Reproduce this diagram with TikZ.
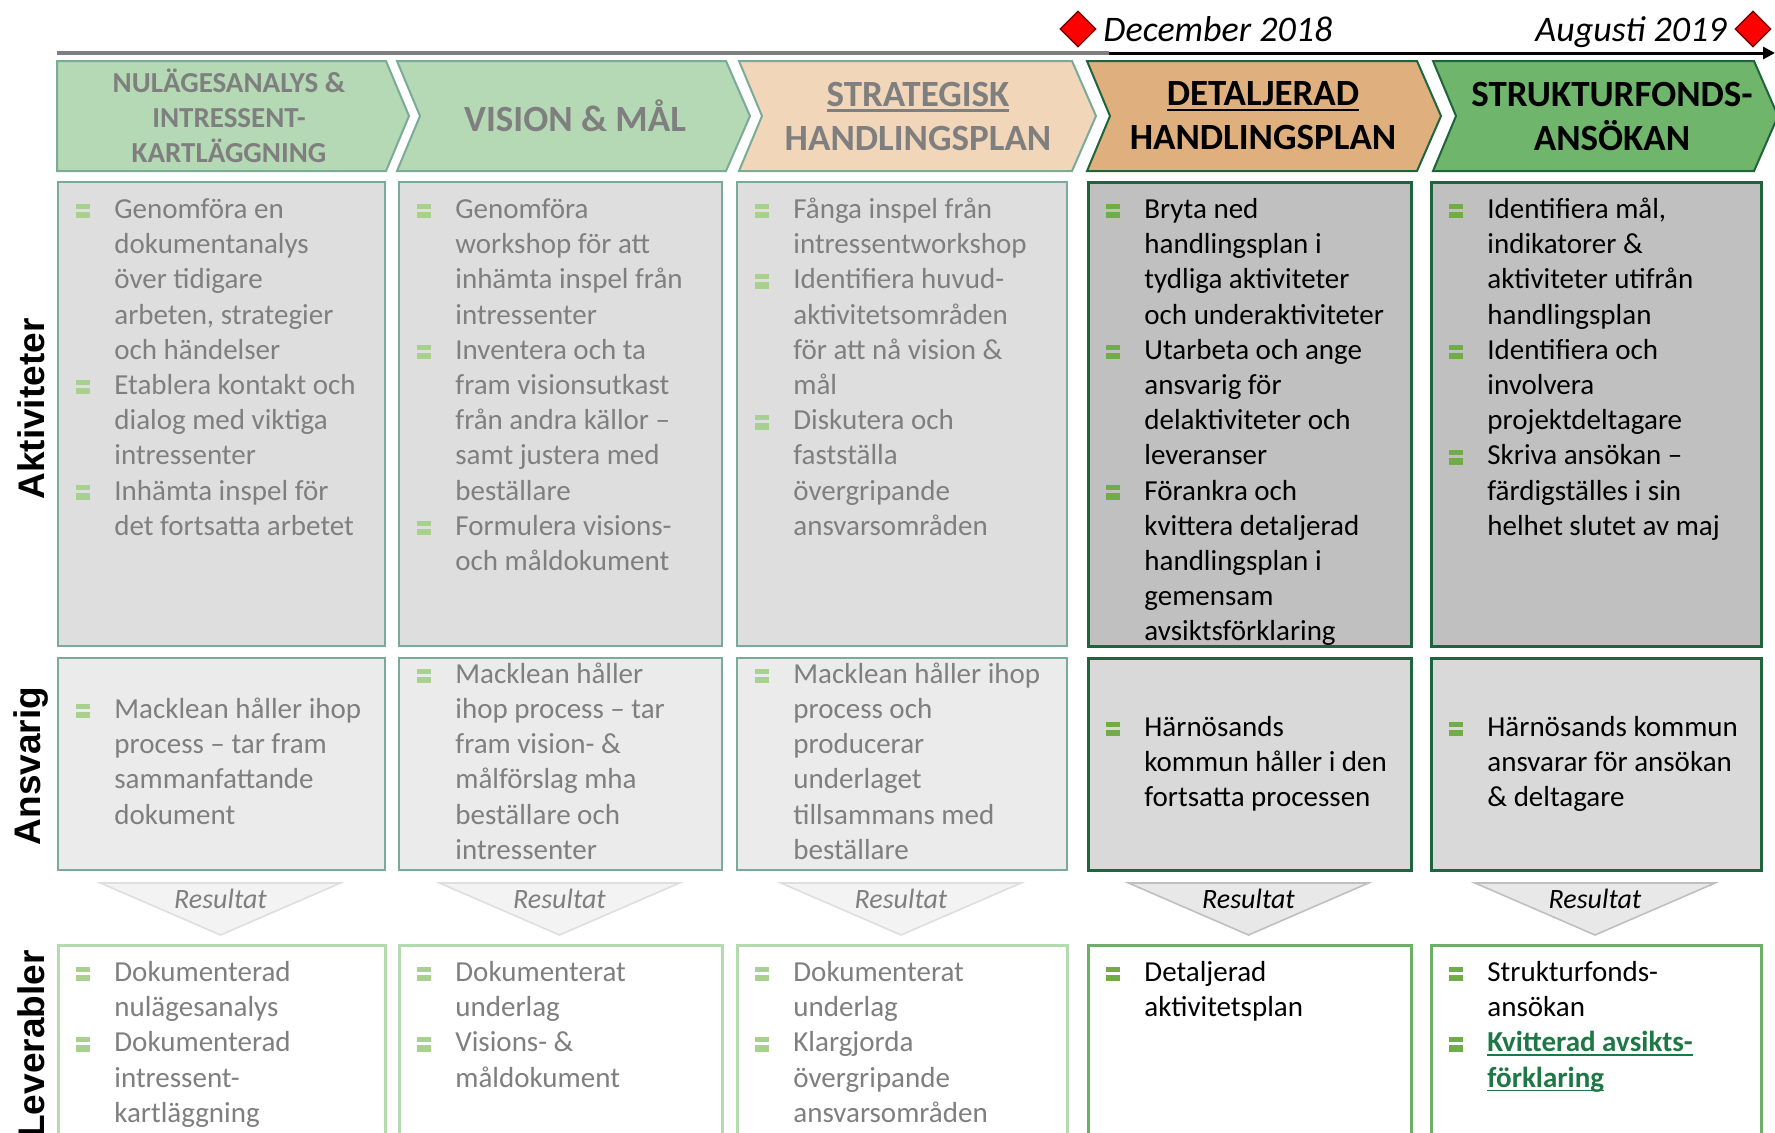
\documentclass[tikz,border=0pt]{standalone}
\usepackage{fontspec}
\setmainfont{Carlito}
\newfontfamily\lblfont{Liberation Sans}
\usetikzlibrary{arrows.meta,shapes.geometric}

\definecolor{hdrgreen}{RGB}{181,216,181}
\definecolor{hdrpeach}{RGB}{241,214,186}
\definecolor{hdrtan}{RGB}{223,176,125}
\definecolor{hdrdark}{RGB}{112,181,108}
\definecolor{edgeteal}{RGB}{122,170,152}
\definecolor{edgedark}{RGB}{30,100,60}
\definecolor{txtgray}{RGB}{127,127,127}
\definecolor{fillakt}{RGB}{222,222,222}
\definecolor{fillaktd}{RGB}{192,192,192}
\definecolor{fillans}{RGB}{235,235,235}
\definecolor{fillansd}{RGB}{217,217,217}
\definecolor{edgelev}{RGB}{180,218,176}
\definecolor{edgelevd}{RGB}{108,176,104}
\definecolor{bltlight}{RGB}{169,209,142}
\definecolor{bltdark}{RGB}{112,173,71}
\definecolor{linkgreen}{RGB}{30,120,70}
\definecolor{resfill}{RGB}{243,243,243}
\definecolor{resedge}{RGB}{222,222,222}
\definecolor{resfilld}{RGB}{232,232,232}
\definecolor{resedged}{RGB}{191,191,191}
\definecolor{msred}{RGB}{255,0,0}
\definecolor{msedge}{RGB}{110,0,0}

\newcommand{\blt}[1]{\strut\llap{\textcolor{#1}{\rlap{\rule{7pt}{3.3pt}}\rule[4.8pt]{7pt}{2.5pt}}\hspace{12pt}}}
\newcommand{\lbul}{\blt{bltlight}}
\newcommand{\dbul}{\blt{bltdark}}
\newcommand{\undl}[1]{\setbox0=\hbox{#1}\rlap{\rule[-0.15em]{\wd0}{0.06em}}\box0}

\begin{document}
\begin{tikzpicture}[
    x=0.5pt, y=-0.5pt,
    chevl/.style={fill=hdrgreen, draw=edgeteal, line width=1pt},
    chevp/.style={fill=hdrpeach, draw=edgeteal, line width=1pt},
    chevt/.style={fill=hdrtan, draw=edgedark, line width=1pt},
    chevd/.style={fill=hdrdark, draw=edgedark, line width=1pt},
    hdr/.style={align=center, inner sep=0, font=\bfseries\fontsize{18.5}{22}\selectfont},
    hdrs/.style={hdr, font=\bfseries\fontsize{14.5}{17.5}\selectfont},
    box/.style={rectangle, anchor=north west, inner sep=0},
    c1/.style={minimum width=163.5pt},
    c2/.style={minimum width=161.5pt},
    c3/.style={minimum width=165pt},
    c4/.style={minimum width=161.5pt},
    c5/.style={minimum width=165pt},
    akt/.style={box, fill=fillakt, draw=edgeteal, line width=1.2pt, minimum height=232pt},
    aktd/.style={box, fill=fillaktd, draw=edgedark, line width=1.3pt, minimum height=232pt},
    ans/.style={box, fill=fillans, draw=edgeteal, line width=1.2pt, minimum height=106pt},
    ansd/.style={box, fill=fillansd, draw=edgedark, line width=1.3pt, minimum height=106pt},
    lev/.style={box, fill=white, draw=edgelev, line width=1.7pt, minimum height=98pt},
    levd/.style={box, fill=white, draw=edgelevd, line width=1.7pt, minimum height=98pt},
    txt/.style={anchor=north west, inner sep=0, align=left, font=\fontsize{14.5}{17.6}\selectfont},
    txtg/.style={txt, text=txtgray},
    mtxt/.style={txt, anchor=west},
    mtxtg/.style={txtg, anchor=west},
    resl/.style={fill=resfill, draw=resedge, line width=0.8pt},
    resd/.style={fill=resfilld, draw=resedged, line width=0.8pt},
    rest/.style={anchor=base, inner sep=0, font=\itshape\fontsize{14}{17}\selectfont},
    lbl/.style={rotate=90, inner sep=0, font=\lblfont\bfseries\fontsize{18.5}{22}\selectfont},
    milestone/.style={diamond, fill=msred, draw=msedge, line width=0.6pt, inner sep=0, minimum width=18pt, minimum height=18pt},
    mslbl/.style={inner sep=0, font=\itshape\fontsize{18}{22}\selectfont}]
\useasboundingbox (0,0) rectangle (1775,1132);
\clip (0,0) rectangle (1775,1132);

% timeline
\coordinate (tl0) at (57,53);
\coordinate (tlm) at (1109,53);
\coordinate (tl1) at (1775,53);
\draw[txtgray, line width=1.75pt] (tl0) -- (tlm);
\draw[black, line width=1.5pt, -{Triangle[length=6pt,width=6pt]}] (tlm) -- (tl1);
\node[milestone] (ms1) at (1078,29) {};
\node[milestone] (ms2) at (1753,29) {};
\node[mslbl, anchor=base west] (ms1t) at (1103,41) {December 2018};
\node[mslbl, anchor=base east] (ms2t) at (1727,41) {Augusti 2019};

% phases
\path[chevl] (57,61) -- (386,61) -- (409,116) -- (386,171) -- (57,171) -- cycle;
\path[chevl] (397,61) -- (726,61) -- (750,116) -- (726,171) -- (397,171) -- (420,116) -- cycle;
\path[chevp] (739,61) -- (1072,61) -- (1096,116) -- (1072,171) -- (739,171) -- (762,116) -- cycle;
\path[chevt] (1087,61) -- (1417,61) -- (1441,116) -- (1417,171) -- (1087,171) -- (1110,116) -- cycle;
\path[chevd] (1433,61) -- (1754,61) -- (1778,116) -- (1754,171) -- (1433,171) -- (1456,116) -- cycle;
\node[hdrs, text=txtgray] (ph1) at (229,116) {NULÄGESANALYS \&\\INTRESSENT-\\KARTLÄGGNING};
\node[hdr, text=txtgray] (ph2) at (575,116) {VISION \& MÅL};
\node[hdr, text=txtgray] (ph3) at (918,116) {\undl{STRATEGISK}\\HANDLINGSPLAN};
\node[hdr] (ph4) at (1263,116) {\undl{DETALJERAD}\\HANDLINGSPLAN};
\node[hdr] (ph5) at (1612,116) {STRUKTURFONDS-\\ANSÖKAN};

% row labels
\node[lbl] (lakt) at (31,409) {Aktiviteter};
\node[lbl] (lans) at (31,766) {Ansvarig};
\node[lbl] (llev) at (31,1044) {Leverabler};

% aktiviteter
\node[akt, c1] (akt1) at (57,181) {};
\node[akt, c2] (akt2) at (398,181) {};
\node[akt, c3] (akt3) at (736,181) {};
\node[aktd, c4] (akt4) at (1087,181) {};
\node[aktd, c5] (akt5) at (1430,181) {};
\node[txtg] (akt1t) at ([xshift=28.5pt, yshift=-6.2pt]akt1.north west) {\lbul Genomföra en\\dokumentanalys\\över tidigare\\arbeten, strategier\\och händelser\\\lbul Etablera kontakt och\\dialog med viktiga\\intressenter\\\lbul Inhämta inspel för\\det fortsatta arbetet};
\node[txtg] (akt2t) at ([xshift=28.5pt, yshift=-6.2pt]akt2.north west) {\lbul Genomföra\\workshop för att\\inhämta inspel från\\intressenter\\\lbul Inventera och ta\\fram visionsutkast\\från andra källor –\\samt justera med\\beställare\\\lbul Formulera visions-\\och måldokument};
\node[txtg] (akt3t) at ([xshift=28.5pt, yshift=-6.2pt]akt3.north west) {\lbul Fånga inspel från\\intressentworkshop\\\lbul Identifiera huvud-\\aktivitetsområden\\för att nå vision \&\\mål\\\lbul Diskutera och\\fastställa\\övergripande\\ansvarsområden};
\node[txt] (akt4t) at ([xshift=28.5pt, yshift=-6.2pt]akt4.north west) {\dbul Bryta ned\\handlingsplan i\\tydliga aktiviteter\\och underaktiviteter\\\dbul Utarbeta och ange\\ansvarig för\\delaktiviteter och\\leveranser\\\dbul Förankra och\\kvittera detaljerad\\handlingsplan i\\gemensam\\avsiktsförklaring};
\node[txt] (akt5t) at ([xshift=28.5pt, yshift=-6.2pt]akt5.north west) {\dbul Identifiera mål,\\indikatorer \&\\aktiviteter utifrån\\handlingsplan\\\dbul Identifiera och\\involvera\\projektdeltagare\\\dbul Skriva ansökan –\\färdigställes i sin\\helhet slutet av maj};

% ansvarig
\node[ans, c1] (ans1) at (57,657) {};
\node[ans, c2] (ans2) at (398,657) {};
\node[ans, c3] (ans3) at (736,657) {};
\node[ansd, c4] (ans4) at (1087,657) {};
\node[ansd, c5] (ans5) at (1430,657) {};
\node[mtxtg] (ans1t) at ([xshift=28.5pt]ans1.west) {\lbul Macklean håller ihop\\process – tar fram\\sammanfattande\\dokument\strut};
\node[mtxtg] (ans2t) at ([xshift=28.5pt]ans2.west) {\lbul Macklean håller\\ihop process – tar\\fram vision- \&\\målförslag mha\\beställare och\\intressenter\strut};
\node[mtxtg] (ans3t) at ([xshift=28.5pt]ans3.west) {\lbul Macklean håller ihop\\process och\\producerar\\underlaget\\tillsammans med\\beställare\strut};
\node[mtxt] (ans4t) at ([xshift=28.5pt]ans4.west) {\dbul Härnösands\\kommun håller i den\\fortsatta processen\strut};
\node[mtxt] (ans5t) at ([xshift=28.5pt]ans5.west) {\dbul Härnösands kommun\\ansvarar för ansökan\\\& deltagare\strut};

% resultat
\path[resl] (100.5,883) -- (340.5,883) -- (220.5,935) -- cycle;
\path[resl] (439.5,883) -- (679.5,883) -- (559.5,935) -- cycle;
\path[resl] (781,883) -- (1021,883) -- (901,935) -- cycle;
\path[resd] (1128.5,883) -- (1368.5,883) -- (1248.5,935) -- cycle;
\path[resd] (1475,883) -- (1715,883) -- (1595,935) -- cycle;
\node[rest, text=txtgray] (res1) at (220.5,908) {Resultat};
\node[rest, text=txtgray] (res2) at (559.5,908) {Resultat};
\node[rest, text=txtgray] (res3) at (901,908) {Resultat};
\node[rest] (res4) at (1248.5,908) {Resultat};
\node[rest] (res5) at (1595,908) {Resultat};

% leverabler
\node[lev, c1] (lev1) at (57,944) {};
\node[lev, c2] (lev2) at (398,944) {};
\node[lev, c3] (lev3) at (736,944) {};
\node[levd, c4] (lev4) at (1087,944) {};
\node[levd, c5] (lev5) at (1430,944) {};
\node[txtg] (lev1t) at ([xshift=28.5pt, yshift=-6.2pt]lev1.north west) {\lbul Dokumenterad\\nulägesanalys\\\lbul Dokumenterad\\intressent-\\kartläggning};
\node[txtg] (lev2t) at ([xshift=28.5pt, yshift=-6.2pt]lev2.north west) {\lbul Dokumenterat\\underlag\\\lbul Visions- \&\\måldokument};
\node[txtg] (lev3t) at ([xshift=28.5pt, yshift=-6.2pt]lev3.north west) {\lbul Dokumenterat\\underlag\\\lbul Klargjorda\\övergripande\\ansvarsområden};
\node[txt] (lev4t) at ([xshift=28.5pt, yshift=-6.2pt]lev4.north west) {\dbul Detaljerad\\aktivitetsplan};
\node[txt] (lev5t) at ([xshift=28.5pt, yshift=-6.2pt]lev5.north west) {\dbul Strukturfonds-\\ansökan\\\dbul\textbf{\color{linkgreen}\undl{Kvitterad avsikts-}}\\\textbf{\color{linkgreen}\undl{förklaring}}};

\end{tikzpicture}
\end{document}
